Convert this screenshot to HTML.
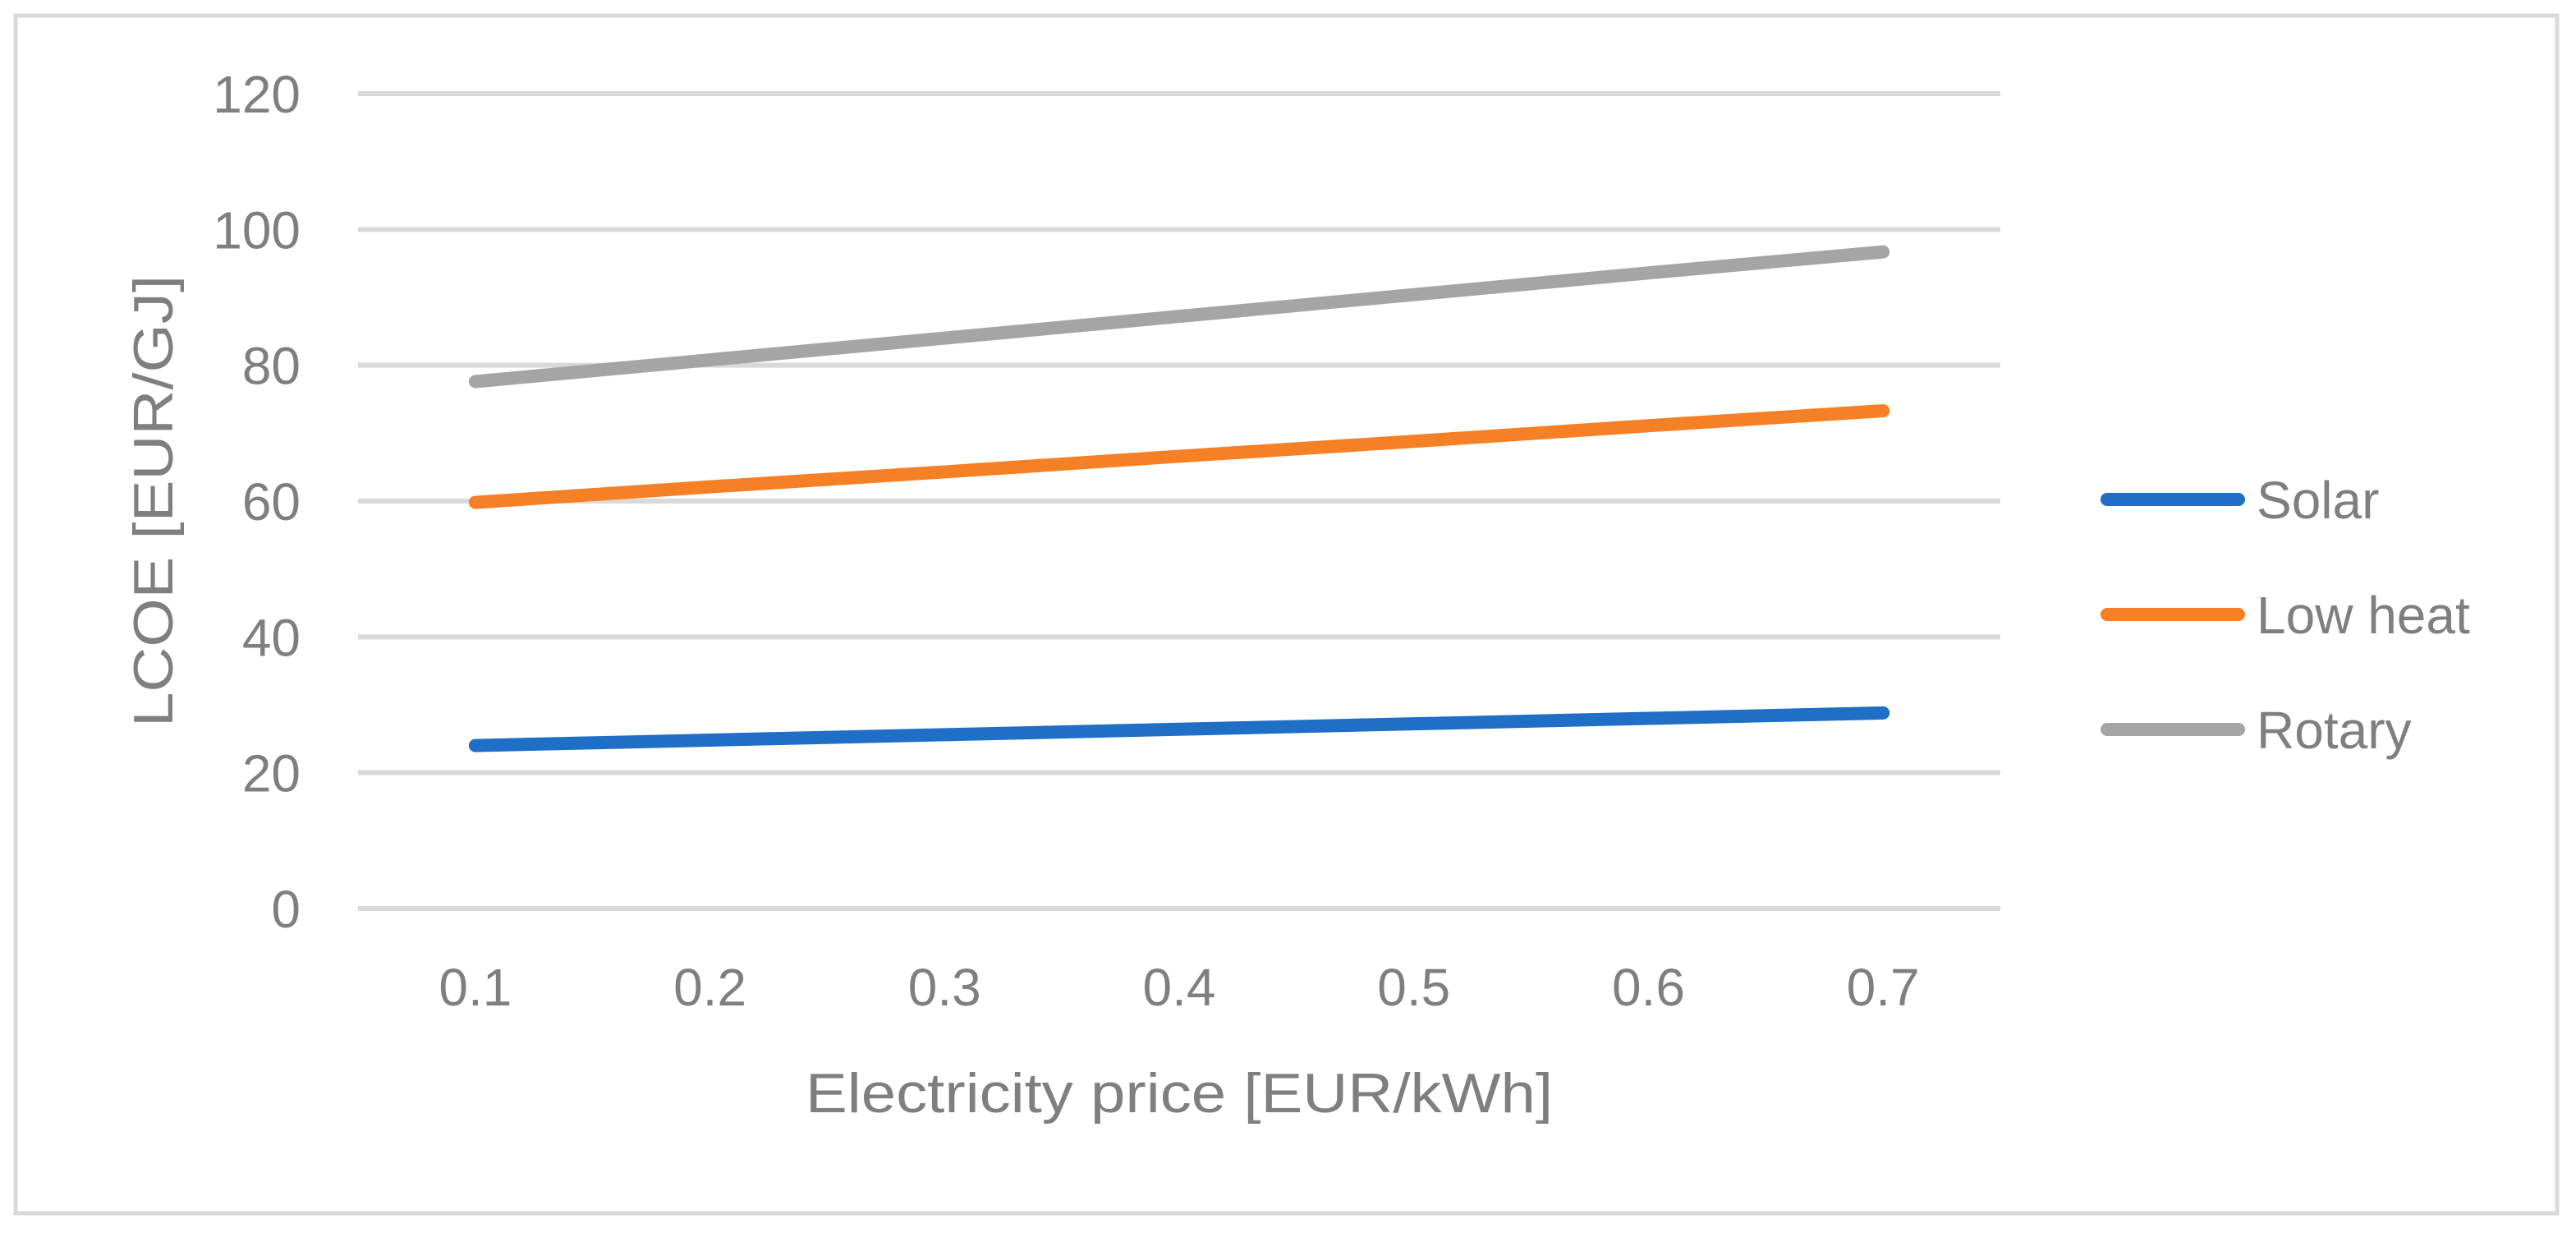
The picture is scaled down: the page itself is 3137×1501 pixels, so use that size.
<!DOCTYPE html>
<html><head><meta charset="utf-8"><style>
html,body{margin:0;padding:0;background:#fff}
svg{display:block}
text{font-family:"Liberation Sans",sans-serif;fill:#7f7f7f}
</style></head><body>
<svg id="chart" width="3137" height="1501" viewBox="0 0 3137 1501" xmlns="http://www.w3.org/2000/svg">
<rect x="19" y="19" width="3095" height="1458" fill="#fff" stroke="#d9d9d9" stroke-width="5"/>
<g id="grid"></g><g id="yticks"></g><g id="xticks"></g><g id="series"></g><g id="legend"></g>
<text transform="translate(210,610) rotate(-90)" text-anchor="middle" font-size="68" textLength="550" lengthAdjust="spacingAndGlyphs">LCOE [EUR/GJ]</text>
<text x="1436" y="1354" text-anchor="middle" font-size="68" textLength="910" lengthAdjust="spacingAndGlyphs">Electricity price [EUR/kWh]</text>
</svg>
<script>
const categories=["0.1","0.2","0.3","0.4","0.5","0.6","0.7"];
const solar=[24,24.8,25.6,26.4,27.2,28,28.8];
const lowHeat=[59.8,62.1,64.3,66.6,68.8,71.1,73.3];
const rotary=[77.6,80.8,84,87.2,90.4,93.6,96.7];
const yTicks=[0,20,40,60,80,100,120];
const seriesNames=["Solar","Low heat","Rotary"];
const seriesColors=["#1f6fc6","#f58025","#a5a5a5"];
const NS="http://www.w3.org/2000/svg";
const X0=436,X1=2436,Y0=1106,Y1=114,YMAX=120;
function xPos(i){return X0+(X1-X0)/categories.length*(i+0.5);}
function yPos(v){return Y0-(Y0-Y1)*v/YMAX;}
function mk(tag,attrs,parent){const e=document.createElementNS(NS,tag);for(const k in attrs)e.setAttribute(k,attrs[k]);parent.appendChild(e);return e;}
const grid=document.getElementById('grid'),yt=document.getElementById('yticks'),xt=document.getElementById('xticks'),sg=document.getElementById('series'),lg=document.getElementById('legend');
yTicks.forEach(v=>{
 const l=mk('line',{x1:X0,x2:X1,y1:yPos(v),y2:yPos(v),stroke:'#d9d9d9','stroke-width':6},grid);
 
 
 const t=mk('text',{x:366,y:yPos(v)+23,'text-anchor':'end','font-size':64},yt);
 t.textContent=v;
 
 
});
categories.forEach((c,i)=>{
 const t=mk('text',{x:xPos(i),y:1224,'text-anchor':'middle','font-size':64},xt);
 t.textContent=c;
 
 
});
[solar,lowHeat,rotary].forEach((d,s)=>{
 const pts=d.map((v,i)=>xPos(i)+','+yPos(v)).join(' ');
 const p=mk('polyline',{points:pts,fill:'none',stroke:seriesColors[s],'stroke-width':16,'stroke-linecap':'round','stroke-linejoin':'round'},sg);
 
 
 const y=608+s*140;
 const g=mk('g',{},lg);
 
 
 mk('line',{x1:2566,x2:2726,y1:y,y2:y,stroke:seriesColors[s],'stroke-width':16,'stroke-linecap':'round'},g);
 const t=mk('text',{x:2748,y:y+23,'font-size':64},g);
 t.textContent=seriesNames[s];
});
</script>
</body></html>
